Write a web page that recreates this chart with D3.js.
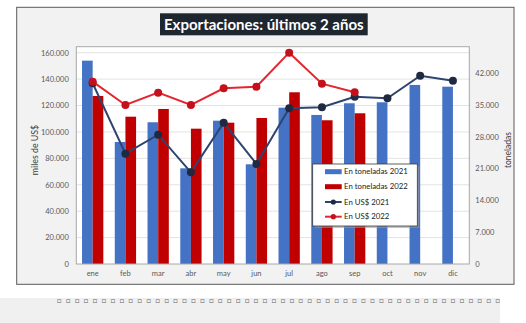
<!DOCTYPE html>
<html><head><meta charset="utf-8">
<script src="https://cdn.jsdelivr.net/npm/d3@7"></script>
<style>
html,body{margin:0;padding:0;background:#fff;}
svg{display:block;}
text{font-family:Lato,"Open Sans",sans-serif;}
</style></head>
<body>
<svg id="c" width="526" height="323"></svg>
<script>
// ---- data ----
const months = ["ene","feb","mar","abr","may","jun","jul","ago","sep","oct","nov","dic"];
const tons2021 = [44750, 26850, 31190, 21060, 31540, 21940, 34400, 32800, 35370, 35590, 39400, 39020];
const tons2022 = [36980, 32420, 34120, 29780, 31100, 32130, 37790, 31630, 33170, null, null, null];
const usd2021 = [136850, 83530, 97920, 69440, 107000, 75730, 117900, 118670, 126700, 125480, 142600, 138800];
const usd2022 = [138060, 120400, 129730, 120400, 133060, 134270, 160020, 136540, 130030];
const leftTicks = [0,20000,40000,60000,80000,100000,120000,140000,160000];
const rightTicks = [0,7000,14000,21000,28000,35000,42000];
const seriesNames = ["En toneladas 2021","En toneladas 2022","En US$ 2021","En US$ 2022"];
const titleText = "Exportaciones: últimos 2 años";
const leftTitle = "miles de US$";
const rightTitle = "toneladas";

// ---- layout ----
const svg = d3.select("#c");
const fmt = d3.formatLocale({decimal:",",thousands:".",grouping:[3],currency:["$",""]}).format(",d");
const box = {x0:76.3, x1:469.3, y0:46.7, y1:264};
const gridTop = 52.7;
const C = {blue:"#4472C4", red:"#C00000", navy:"#2E4470", navyDot:"#1F2A40", redLine:"#E3262F", redDot:"#C4101A"};

// bottom band & tofu row
svg.append("rect").attr("x",0).attr("y",298).attr("width",500).attr("height",25).attr("fill","#f0f0f0");
svg.append("text").attr("x",57).attr("y",302.5).attr("font-family","DejaVu Sans").attr("font-size",7.5)
  .attr("fill","#666").attr("textLength",443).attr("lengthAdjust","spacing")
  .text("□".repeat(50));

// outer frame
svg.append("rect").attr("x",16.7).attr("y",7.3).attr("width",514-16.7).attr("height",284.3-7.3)
  .attr("fill","#f2f2f2").attr("stroke","#5a5a5a").attr("stroke-width",1);

// plot area
svg.append("rect").attr("x",box.x0).attr("y",box.y0).attr("width",box.x1-box.x0).attr("height",box.y1-box.y0)
  .attr("fill","#ffffff");

const x = d3.scaleBand().domain(months).range([box.x0, box.x1]).padding(0);
const yL = d3.scaleLinear().domain([0,160000]).range([box.y1, gridTop]);
const yR = d3.scaleLinear().domain([0,46500]).range([box.y1, gridTop]);

// gridlines
svg.append("g").selectAll("line").data(leftTicks.filter(d=>d>0)).join("line")
  .attr("x1",box.x0).attr("x2",box.x1).attr("y1",d=>yL(d)).attr("y2",d=>yL(d))
  .attr("stroke","#e3e3e3").attr("stroke-width",1);

// bars
const bw = x.bandwidth()*0.325;
const cx = m => x(m) + x.bandwidth()/2;
svg.append("g").selectAll("rect").data(months.map((m,i)=>({m,v:tons2021[i]})).filter(d=>d.v!=null)).join("rect")
  .attr("x",d=>cx(d.m)-bw).attr("width",bw).attr("y",d=>yR(d.v)).attr("height",d=>yR(0)-yR(d.v)).attr("fill",C.blue);
svg.append("g").selectAll("rect").data(months.map((m,i)=>({m,v:tons2022[i]})).filter(d=>d.v!=null)).join("rect")
  .attr("x",d=>cx(d.m)).attr("width",bw).attr("y",d=>yR(d.v)).attr("height",d=>yR(0)-yR(d.v)).attr("fill",C.red);

// plot border
svg.append("rect").attr("x",box.x0).attr("y",box.y0).attr("width",box.x1-box.x0).attr("height",box.y1-box.y0)
  .attr("fill","none").attr("stroke","#a8a8a8").attr("stroke-width",1);

// lines
const line = d3.line().x(d=>cx(d.m)).y(d=>yL(d.v));
function drawLine(vals, col, dotCol){
  const pts = vals.map((v,i)=>({m:months[i],v}));
  svg.append("path").datum(pts).attr("d",line).attr("fill","none").attr("stroke",col).attr("stroke-width",2);
  svg.append("g").selectAll("circle").data(pts).join("circle")
    .attr("cx",d=>cx(d.m)).attr("cy",d=>yL(d.v)).attr("r",4).attr("fill",dotCol);
}
drawLine(usd2021, C.navy, C.navyDot);
drawLine(usd2022, C.redLine, C.redDot);

// axes
const tickCol = "#595959";
const gL = svg.append("g").attr("transform",`translate(${box.x0},0)`)
  .call(d3.axisLeft(yL).tickValues(leftTicks).tickFormat(fmt).tickSize(0).tickPadding(7.5));
const gR = svg.append("g").attr("transform",`translate(${box.x1},0)`)
  .call(d3.axisRight(yR).tickValues(rightTicks).tickFormat(fmt).tickSize(0).tickPadding(6));
const gX = svg.append("g").attr("transform",`translate(0,${box.y1})`)
  .call(d3.axisBottom(x).tickSize(0).tickPadding(7));
[gL,gR,gX].forEach(g=>{
  g.select(".domain").remove();
  g.selectAll("text").attr("fill",tickCol).attr("font-size",7.5).attr("font-family","Lato,sans-serif");
});

// axis titles
svg.append("text").attr("transform","translate(38,150) rotate(-90)").attr("text-anchor","middle")
  .attr("font-size",8.8).attr("fill","#404040").text(leftTitle);
svg.append("text").attr("transform","translate(511,150) rotate(-90)").attr("text-anchor","middle")
  .attr("font-size",8.5).attr("fill","#404040").text(rightTitle);

// title
svg.append("rect").attr("x",160).attr("y",13.3).attr("width",207.7).attr("height",22).attr("fill","#1e2630");
const t = svg.append("text").attr("x",263.8).attr("y",29.5).attr("text-anchor","middle")
  .attr("font-size",15).attr("font-weight","bold").attr("fill","#ffffff").text(titleText);
const tw = t.node().getComputedTextLength();
t.attr("font-size", 15*200/tw);

// legend
const lg = {x:312.7, y:164, w:104.6, h:62};
svg.append("rect").attr("x",lg.x+2).attr("y",lg.y+2).attr("width",lg.w).attr("height",lg.h).attr("fill","#9a9a9a").attr("opacity",0.6);
svg.append("rect").attr("x",lg.x).attr("y",lg.y).attr("width",lg.w).attr("height",lg.h).attr("fill","#fff")
  .attr("stroke","#3a3a3a").attr("stroke-width",0.8);
const ly = [171.7,186.7,202,216.7];
const lgItems = seriesNames.map((n,i)=>({n,y:ly[i]}));
const li = svg.append("g").selectAll("g").data(lgItems).join("g");
li.each(function(d,i){
  const g = d3.select(this);
  if(i<2){
    g.append("rect").attr("x",325).attr("y",d.y-2.5).attr("width",16.7).attr("height",5).attr("fill",i==0?C.blue:C.red);
  } else {
    const col = i==2?C.navy:C.redLine, dc = i==2?C.navyDot:C.redDot;
    g.append("line").attr("x1",325).attr("x2",341.7).attr("y1",d.y).attr("y2",d.y).attr("stroke",col).attr("stroke-width",2);
    g.append("circle").attr("cx",333.3).attr("cy",d.y).attr("r",2.6).attr("fill",dc);
  }
  g.append("text").attr("x",344).attr("y",d.y+2.7).attr("font-size",7.8).attr("fill","#222").text(d.n);
});
</script>
</body></html>
